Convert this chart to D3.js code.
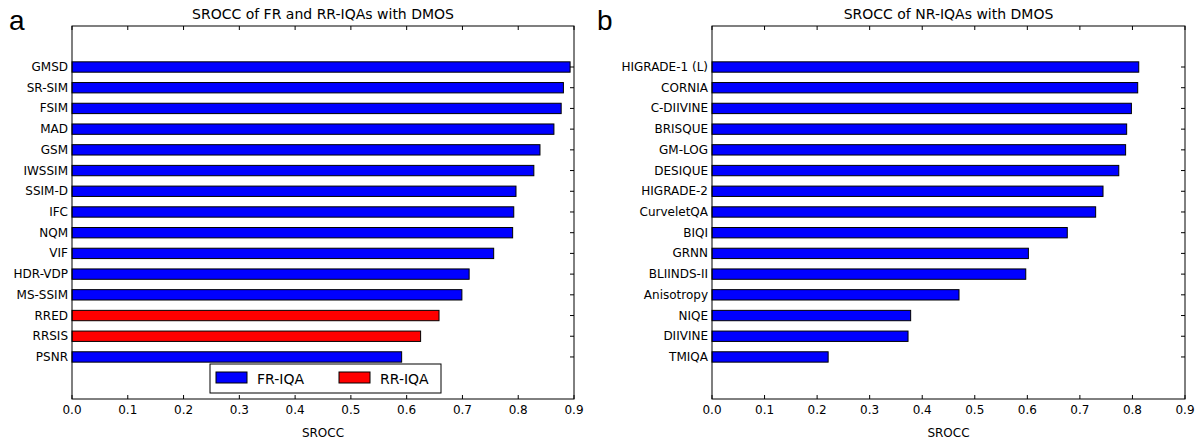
<!DOCTYPE html>
<html>
<head>
<meta charset="utf-8">
<script src="https://cdn.jsdelivr.net/npm/d3@7"></script>
<style>
  body { margin: 0; background: #fff; }
  svg { display: block; font-family: "DejaVu Sans", sans-serif; }
</style>
</head>
<body>
<svg width="1197" height="441"></svg>
<script>
// panel a: FR and RR IQAs (top to bottom)
const fullRefNames = ['GMSD', 'SR-SIM', 'FSIM', 'MAD', 'GSM', 'IWSSIM', 'SSIM-D', 'IFC', 'NQM', 'VIF', 'HDR-VDP', 'MS-SSIM', 'RRED', 'RRSIS', 'PSNR']
const fullRefValues = [0.893, 0.881, 0.877, 0.864, 0.839, 0.828, 0.796, 0.792, 0.790, 0.756, 0.712, 0.699, 0.658, 0.625, 0.591]
const fullRefType = ['FR', 'FR', 'FR', 'FR', 'FR', 'FR', 'FR', 'FR', 'FR', 'FR', 'FR', 'FR', 'RR', 'RR', 'FR']

// panel b: NR IQAs
const noRefNames = ['HIGRADE-1 (L)', 'CORNIA', 'C-DIIVINE', 'BRISQUE', 'GM-LOG', 'DESIQUE', 'HIGRADE-2', 'CurveletQA', 'BIQI', 'GRNN', 'BLIINDS-II', 'Anisotropy', 'NIQE', 'DIIVINE', 'TMIQA']
const noRefValues = [0.812, 0.810, 0.798, 0.789, 0.787, 0.774, 0.744, 0.730, 0.676, 0.602, 0.597, 0.470, 0.378, 0.373, 0.221]

const xTicks = [0, 0.1, 0.2, 0.3, 0.4, 0.5, 0.6, 0.7, 0.8, 0.9]
const colors = { FR: '#0000ff', RR: '#ff0000' }

const svg = d3.select('svg')
const axTop = 26, axBottom = 399

function drawPanel(opts) {
    const g = svg.append('g')
    const n = opts.names.length
    const x = d3.scaleLinear().domain([0, 0.9]).range([opts.left, opts.right])
    // category index n-1 at top, 0 at bottom, like matplotlib barh
    const y = d3.scaleLinear().domain([-2.03, n - 1 + 1.98]).range([axBottom, axTop])
    const pos = (i) => n - 1 - i
    const barH = y(0) - y(0.5)

    g.selectAll('rect.bar')
        .data(opts.values)
        .enter().append('rect')
        .attr('class', 'bar')
        .attr('x', x(0))
        .attr('y', (d, i) => y(pos(i) + 0.25))
        .attr('width', d => x(d) - x(0))
        .attr('height', barH)
        .attr('fill', (d, i) => colors[opts.types ? opts.types[i] : 'FR'])
        .attr('stroke', '#000')
        .attr('stroke-width', 1)

    // frame
    g.append('rect')
        .attr('x', x(0)).attr('y', axTop)
        .attr('width', x(0.9) - x(0)).attr('height', axBottom - axTop)
        .attr('fill', 'none').attr('stroke', '#000').attr('stroke-width', 1)

    // x ticks (inward, top and bottom)
    xTicks.forEach(t => {
        g.append('line').attr('x1', x(t)).attr('x2', x(t))
            .attr('y1', axBottom).attr('y2', axBottom - 4).attr('stroke', '#000')
        g.append('line').attr('x1', x(t)).attr('x2', x(t))
            .attr('y1', axTop).attr('y2', axTop + 4).attr('stroke', '#000')
        g.append('text').attr('x', x(t)).attr('y', 414)
            .attr('text-anchor', 'middle').attr('font-size', 12)
            .text(d3.format('.1f')(t))
    })

    // y ticks and category labels
    opts.names.forEach((name, i) => {
        const yy = y(pos(i))
        g.append('line').attr('x1', x(0.9)).attr('x2', x(0.9) - 4)
            .attr('y1', yy).attr('y2', yy).attr('stroke', '#000')
        g.append('text').attr('x', x(0) - 4).attr('y', yy + 4)
            .attr('text-anchor', 'end').attr('font-size', 12)
            .text(name)
    })

    g.append('text').attr('x', (x(0) + x(0.9)) / 2).attr('y', 19)
        .attr('text-anchor', 'middle').attr('font-size', 14)
        .text(opts.title)
    g.append('text').attr('x', (x(0) + x(0.9)) / 2).attr('y', 437)
        .attr('text-anchor', 'middle').attr('font-size', 12)
        .text('SROCC')
    g.append('text').attr('x', opts.letterX).attr('y', 30)
        .attr('font-size', 28).attr('font-family', 'Liberation Sans, Arial, sans-serif')
        .text(opts.letter)
    return { x, y }
}

drawPanel({
    names: fullRefNames, values: fullRefValues, types: fullRefType,
    left: 72, right: 574, title: 'SROCC of FR and RR-IQAs with DMOS', letter: 'a', letterX: 9
})
drawPanel({
    names: noRefNames, values: noRefValues,
    left: 712, right: 1185, title: 'SROCC of NR-IQAs with DMOS', letter: 'b', letterX: 597
})

// legend for panel a
const legend = svg.append('g')
legend.append('rect').attr('x', 210).attr('y', 364).attr('width', 231).attr('height', 29)
    .attr('fill', '#fff').attr('stroke', '#000')
const legendItems = [['FR-IQA', colors.FR, 216], ['RR-IQA', colors.RR, 339]]
legendItems.forEach(([label, c, lx]) => {
    legend.append('rect').attr('x', lx).attr('y', 372).attr('width', 31).attr('height', 11)
        .attr('fill', c).attr('stroke', '#000')
    legend.append('text').attr('x', lx + 41).attr('y', 384).attr('font-size', 14).text(label)
})
</script>
</body>
</html>
